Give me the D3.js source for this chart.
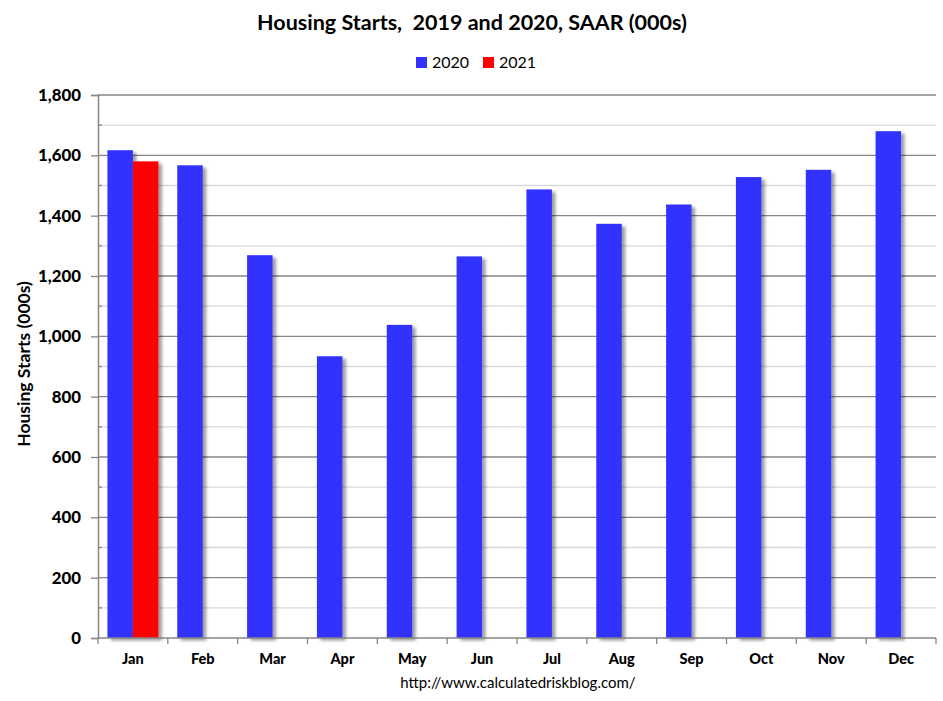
<!DOCTYPE html>
<html><head><meta charset="utf-8">
<script src="https://cdn.jsdelivr.net/npm/d3@7"></script>
<style>
html,body{margin:0;padding:0;background:#fff;}
svg text{font-family:Lato,"Open Sans",sans-serif;}
</style></head>
<body>
<svg id="chart" width="943" height="701"></svg>
<script>
const months = ["Jan","Feb","Mar","Apr","May","Jun","Jul","Aug","Sep","Oct","Nov","Dec"];
const seriesNames = ["2020","2021"];
const values2020 = [1617,1567,1269,934,1038,1265,1487,1373,1437,1528,1552,1680];
const values2021 = [1580,null,null,null,null,null,null,null,null,null,null,null];
const yTicks = [0,200,400,600,800,1000,1200,1400,1600,1800];
const colors = ["#3333FF","#FF0000"];
const titleText = "Housing Starts,  2019 and 2020, SAAR (000s)";
const yTitle = "Housing Starts (000s)";
const sourceText = "http://www.calculatedriskblog.com/";

const svg = d3.select("#chart");
const L = 98, R = 936, T = 95, B = 638;

const defs = svg.append("defs");
const f = defs.append("filter").attr("id","shadow").attr("x","-20%").attr("y","-5%").attr("width","160%").attr("height","115%");
f.append("feDropShadow").attr("dx",3.5).attr("dy",2.5).attr("stdDeviation",1.6)
  .attr("flood-color","#000").attr("flood-opacity",0.38);

const x = d3.scaleBand().domain(months).range([L,R]).paddingInner(0.27).paddingOuter(0.135);
const xs = d3.scaleBand().domain(seriesNames).range([0,x.bandwidth()]);
const y = d3.scaleLinear().domain([0,1800]).range([B,T]);

// minor gridlines
const minor = d3.range(100,1800,200);
svg.append("g").selectAll("line").data(minor).join("line")
  .attr("x1",L).attr("x2",R).attr("y1",d=>y(d)).attr("y2",d=>y(d))
  .attr("stroke","#d9d9d9").attr("stroke-width",1.3);
// major gridlines
svg.append("g").selectAll("line").data(yTicks.filter(d=>d>0)).join("line")
  .attr("x1",L).attr("x2",R).attr("y1",d=>y(d)).attr("y2",d=>y(d))
  .attr("stroke","#868686").attr("stroke-width",1.3);

// bars
const data = months.map((m,i)=>({m, vals:[values2020[i],values2021[i]]}));
const g = svg.append("g").attr("filter","url(#shadow)");
data.forEach(d=>{
  d.vals.forEach((v,j)=>{
    if(v==null) return;
    g.append("rect")
      .attr("x",x(d.m)+xs(seriesNames[j]))
      .attr("width",xs.bandwidth())
      .attr("y",y(v)).attr("height",B-y(v))
      .attr("fill",colors[j]);
  });
});

// y axis
const yAxis = d3.axisLeft(y).tickValues(yTicks).tickSize(7).tickPadding(10).tickFormat(d3.format(","));
const ya = svg.append("g").attr("transform",`translate(${L},0)`).call(yAxis);
ya.select(".domain").attr("stroke","#868686").attr("stroke-width",1.5);
ya.selectAll(".tick line").attr("stroke","#868686").attr("stroke-width",1.3);
ya.selectAll("text").attr("font-size",16.8).attr("font-weight","900").attr("fill","#000");
// minor ticks inside
svg.append("g").selectAll("line").data(minor).join("line")
  .attr("x1",L).attr("x2",L+4).attr("y1",d=>y(d)).attr("y2",d=>y(d))
  .attr("stroke","#868686").attr("stroke-width",1.3);

// x axis
svg.append("line").attr("x1",L).attr("x2",R).attr("y1",B).attr("y2",B)
  .attr("stroke","#868686").attr("stroke-width",1.5);
const bounds = months.map(m=>x(m)-x.step()*x.paddingInner()/2).concat([R]);
svg.append("g").selectAll("line").data(bounds).join("line")
  .attr("x1",d=>d).attr("x2",d=>d).attr("y1",B).attr("y2",B+6)
  .attr("stroke","#868686").attr("stroke-width",1.3);
svg.append("g").selectAll("text").data(months).join("text")
  .attr("x",d=>x(d)+x.bandwidth()/2).attr("y",664)
  .attr("text-anchor","middle").attr("font-size",14.5).attr("font-weight","900").text(d=>d);

// titles
svg.append("text").attr("x",472).attr("y",30).attr("text-anchor","middle")
  .attr("font-size",21.5).attr("font-weight","bold").attr("xml:space","preserve").text(titleText);
svg.append("text").attr("transform","translate(30,364) rotate(-90)").attr("text-anchor","middle")
  .attr("font-size",17.5).attr("font-weight","bold").text(yTitle);
svg.append("text").attr("x",518).attr("y",688).attr("text-anchor","middle")
  .attr("font-size",15).text(sourceText);

// legend
const legX = [416,483];
seriesNames.forEach((s,i)=>{
  svg.append("rect").attr("x",legX[i]).attr("y",57).attr("width",11).attr("height",11).attr("fill",colors[i]);
  svg.append("text").attr("x",legX[i]+16).attr("y",68).attr("font-size",16).text(s);
});
</script>
</body></html>
